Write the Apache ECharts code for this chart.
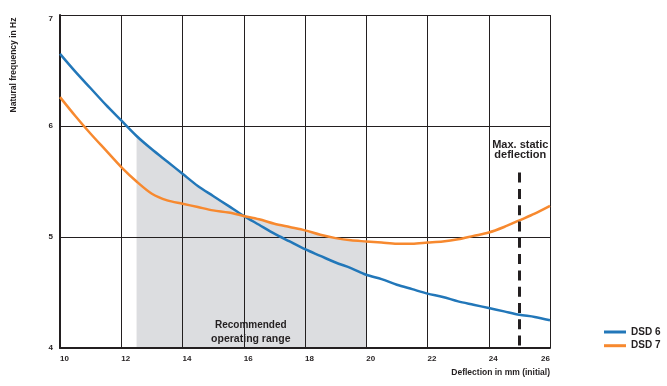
<!DOCTYPE html>
<html>
<head>
<meta charset="utf-8">
<script src="https://cdn.jsdelivr.net/npm/echarts@6/dist/echarts.min.js"></script>
<style>
html,body{margin:0;padding:0;background:#fff;}
#c{width:667px;height:386px;}
</style>
</head>
<body>
<div id="c"></div>
<script>
const xs   = [10, 10.5, 11, 11.5, 12, 12.5, 13, 13.5, 14, 14.5, 15, 15.5, 16, 16.5, 17, 17.5, 18, 18.5, 19, 19.5, 20, 20.5, 21, 21.5, 22, 22.5, 23, 23.5, 24, 24.5, 25, 25.5, 26];
const dsd6 = [6.65, 6.49, 6.34, 6.19, 6.05, 5.91, 5.79, 5.68, 5.57, 5.46, 5.37, 5.28, 5.19, 5.11, 5.03, 4.96, 4.89, 4.83, 4.77, 4.72, 4.66, 4.62, 4.57, 4.53, 4.49, 4.46, 4.42, 4.39, 4.36, 4.33, 4.30, 4.28, 4.25];
const dsd7 = [6.26, 6.09, 5.93, 5.78, 5.63, 5.50, 5.39, 5.33, 5.30, 5.27, 5.24, 5.22, 5.19, 5.16, 5.12, 5.09, 5.06, 5.02, 4.99, 4.97, 4.96, 4.95, 4.94, 4.94, 4.95, 4.96, 4.98, 5.01, 5.04, 5.09, 5.15, 5.21, 5.28];
const seriesNames = ['DSD 6', 'DSD 7'];
const rangeStart = 12.5, rangeEnd = 20;
const maxStaticX = 25, maxStaticTop = 5.58;
const xAxisName = 'Deflection in mm (initial)';
const yAxisName = 'Natural frequency in Hz';
const rangeLabel = ['Recommended', 'operating range'];
const staticLabel = ['Max. static', 'deflection'];

const INK = '#231f20';
const FONT = '"Liberation Sans", Arial, sans-serif';

const pts6 = xs.map((x, i) => [x, dsd6[i]]);
const pts7 = xs.map((x, i) => [x, dsd7[i]]);
const shade = [];
xs.forEach((x, i) => { if (x >= rangeStart && x <= rangeEnd) shade.push([x, Math.max(dsd6[i], dsd7[i])]); });

const chart = echarts.init(document.getElementById('c'), null, {renderer: 'canvas'});
const option = {
  animation: false,
  backgroundColor: '#fff',
  grid: {left: 60, right: 117, top: 15, bottom: 38, containLabel: false},
  legend: {
    orient: 'vertical', left: 604, top: 326, padding: 0, itemWidth: 22, itemHeight: 3, itemGap: 1.7,
    icon: 'rect', data: seriesNames,
    textStyle: {color: INK, fontFamily: FONT, fontWeight: 'bold', fontSize: 10, lineHeight: 12}
  },
  xAxis: {
    type: 'value', min: 10, max: 26, interval: 2,
    axisLine: {show: true, onZero: false, lineStyle: {color: INK, width: 2}},
    axisTick: {show: false},
    splitLine: {show: true, lineStyle: {color: INK, width: 1}},
    axisLabel: {color: INK, fontFamily: FONT, fontWeight: 'bold', fontSize: 8, margin: 7, align: 'left', alignMaxLabel: 'right'}
  },
  yAxis: {
    type: 'value', min: 4, max: 7, interval: 1,
    axisLine: {show: true, onZero: false, lineStyle: {color: INK, width: 2}},
    axisTick: {show: false},
    splitLine: {show: true, lineStyle: {color: INK, width: 1}},
    axisLabel: {color: INK, fontFamily: FONT, fontWeight: 'bold', fontSize: 8, margin: 7, verticalAlignMaxLabel: 'top'}
  },
  series: [
    {
      name: 'range', type: 'line', data: shade, symbol: 'none', silent: true, z: -1,
      smooth: 0.3,
      lineStyle: {width: 0}, areaStyle: {color: '#dcdde0', opacity: 1, origin: 'start'}
    },
    {
      name: seriesNames[0], type: 'line', data: pts6, symbol: 'none', color: '#2277b9',
      smooth: 0.3,
      lineStyle: {width: 2.5, color: '#2277b9'}, z: 3,
      markLine: {
        silent: true, symbol: ['none', 'none'], label: {show: false},
        lineStyle: {color: INK, width: 3, type: [10, 6.3]},
        data: [[{coord: [maxStaticX, maxStaticTop]}, {coord: [maxStaticX, 4]}]]
      }
    },
    {
      name: seriesNames[1], type: 'line', data: pts7, symbol: 'none', color: '#f7892f',
      smooth: 0.3,
      lineStyle: {width: 2.5, color: '#f7892f'}, z: 4
    }
  ]
};
chart.setOption(option);

const p = (x, y) => chart.convertToPixel({gridIndex: 0}, [x, y]);
const pr1 = p(16.23, 4.207), pr2 = p(16.23, 4.08);
const ps1 = p(25.03, 5.83), ps2 = p(25.03, 5.74);
const gx = p(26, 4), gy = p(10, 7);
const txt = (x, y, s, size, align) => ({
  type: 'text', x: x, y: y, z: 100, silent: true,
  style: {text: s, fill: INK, font: 'bold ' + size + 'px ' + FONT, textAlign: align || 'center', textVerticalAlign: 'middle'}
});
chart.setOption({
  graphic: [
    txt(pr1[0], pr1[1], rangeLabel[0], 10),
    txt(pr2[0], pr2[1], rangeLabel[1], 10.5),
    txt(ps1[0], ps1[1], staticLabel[0], 11),
    txt(ps2[0], ps2[1], staticLabel[1], 11),
    txt(gx[0], 372.5, xAxisName, 8.5, 'right'),
    {
      type: 'text', x: 14, y: gy[1] + 50, rotation: Math.PI / 2, z: 100, silent: true,
      style: {text: yAxisName, fill: INK, font: 'bold 8.5px ' + FONT, textAlign: 'center', textVerticalAlign: 'middle'}
    }
  ]
});
</script>
</body>
</html>
